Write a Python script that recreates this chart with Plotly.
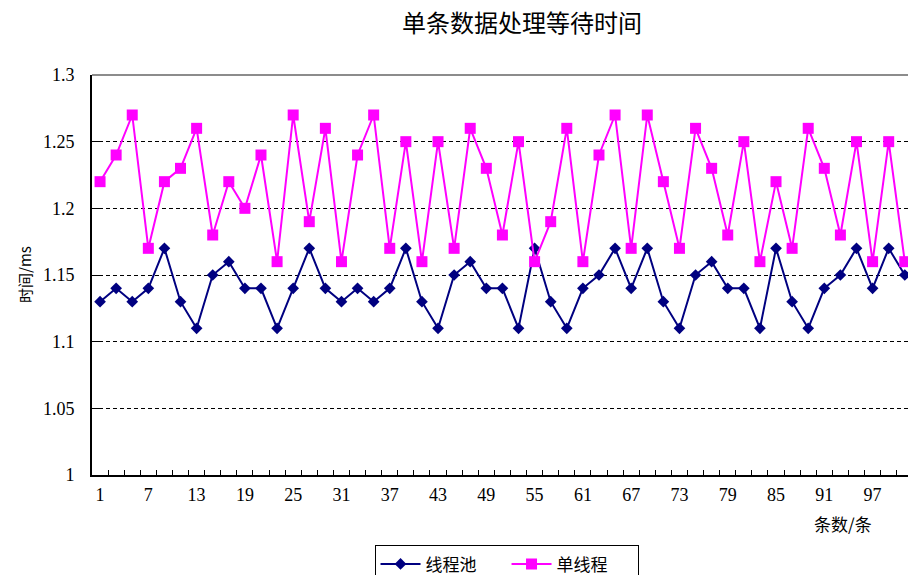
import plotly.graph_objects as go

# Record index (every other record is plotted) and waiting time in ms
record_no = list(range(1, 102, 2))

thread_pool_ms = [
    1.13, 1.14, 1.13, 1.14, 1.17, 1.13, 1.11, 1.15, 1.16, 1.14, 1.14, 1.11, 1.14, 1.17, 1.14, 1.13, 1.14,
    1.13, 1.14, 1.17, 1.13, 1.11, 1.15, 1.16, 1.14, 1.14, 1.11, 1.17, 1.13, 1.11, 1.14, 1.15, 1.17, 1.14,
    1.17, 1.13, 1.11, 1.15, 1.16, 1.14, 1.14, 1.11, 1.17, 1.13, 1.11, 1.14, 1.15, 1.17, 1.14, 1.17, 1.15,
]

single_thread_ms = [
    1.22, 1.24, 1.27, 1.17, 1.22, 1.23, 1.26, 1.18, 1.22, 1.20, 1.24, 1.16, 1.27, 1.19, 1.26, 1.16, 1.24,
    1.27, 1.17, 1.25, 1.16, 1.25, 1.17, 1.26, 1.23, 1.18, 1.25, 1.16, 1.19, 1.26, 1.16, 1.24, 1.27, 1.17,
    1.27, 1.22, 1.17, 1.26, 1.23, 1.18, 1.25, 1.16, 1.22, 1.17, 1.26, 1.23, 1.18, 1.25, 1.16, 1.25, 1.16,
]

x_tick_vals = list(range(1, 98, 6))
x_tick_text = [str(v) for v in x_tick_vals]
x_minor_vals = list(range(2, 102, 2))

y_tick_vals = [1.0, 1.05, 1.1, 1.15, 1.2, 1.25, 1.3]
y_tick_text = ["1", "1.05", "1.1", "1.15", "1.2", "1.25", "1.3"]

title_text = "单条数据处理等待时间"
y_title = "时间/ms"
x_title = "条数/条"

CJK = "Noto Sans CJK SC"
SERIF = "Liberation Serif"
X_RANGE = [0, 101.4]

fig = go.Figure()

fig.add_trace(go.Scatter(
    x=record_no, y=thread_pool_ms, name="线程池", mode="lines+markers",
    line=dict(color="#000080", width=2),
    marker=dict(symbol="diamond", size=9, color="#000080"),
))
fig.add_trace(go.Scatter(
    x=record_no, y=single_thread_ms, name="单线程", mode="lines+markers",
    line=dict(color="#FF00FF", width=2),
    marker=dict(symbol="square", size=11, color="#FF00FF"),
))
# invisible carrier trace for the overlay axis that draws the small category ticks
fig.add_trace(go.Scatter(
    x=[X_RANGE[0]], y=[1.0], xaxis="x2", mode="markers",
    marker=dict(opacity=0), showlegend=False, hoverinfo="skip",
))

fig.update_layout(
    width=908, height=575,
    margin=dict(l=92, r=0, t=75, b=100, autoexpand=False),
    paper_bgcolor="white", plot_bgcolor="white",
    showlegend=True,
    legend=dict(
        orientation="h", x=0.508, xanchor="center", y=-0.176, yanchor="top",
        bordercolor="black", borderwidth=1,
        font=dict(family=CJK, size=17, color="black"),
        itemwidth=40, entrywidth=76, tracegroupgap=0,
    ),
    annotations=[
        dict(text=title_text, xref="paper", yref="paper", x=(522 - 92) / 816, y=(475 - 22) / 400,
             xanchor="center", yanchor="middle", showarrow=False,
             font=dict(family=CJK, size=24, color="black")),
        dict(text=y_title, xref="paper", yref="paper", x=(24 - 92) / 816, y=0.5,
             xanchor="center", yanchor="middle", showarrow=False, textangle=-90,
             font=dict(family=CJK, size=15, color="black")),
        dict(text=x_title, xref="paper", yref="paper", x=(843 - 92) / 816, y=(475 - 523) / 400,
             xanchor="center", yanchor="middle", showarrow=False,
             font=dict(family=CJK, size=17, color="black")),
    ],
    shapes=[
        # light grey top border of the plot area
        dict(type="line", xref="paper", yref="paper", x0=0, x1=1, y0=1, y1=1,
             line=dict(color="#8c8c8c", width=2), layer="above"),
    ],
    xaxis2=dict(
        overlaying="x", side="bottom", anchor="y", range=X_RANGE,
        tickmode="array", tickvals=x_minor_vals, ticks="inside",
        ticklen=5, tickcolor="black", tickwidth=1,
        showticklabels=False, showgrid=False, zeroline=False, showline=False,
    ),
)

fig.update_layout(xaxis=dict(
    range=X_RANGE,
    tickmode="array", tickvals=x_tick_vals, ticktext=x_tick_text,
    ticks="", showgrid=False, zeroline=False,
    showline=True, linecolor="black", linewidth=2,
    tickfont=dict(family=SERIF, size=18, color="black"),
    ticklabelstandoff=2,
))

fig.update_yaxes(
    range=[1.0, 1.3],
    tickmode="array", tickvals=y_tick_vals, ticktext=y_tick_text,
    ticks="inside", ticklen=7, tickcolor="black", tickwidth=1,
    showgrid=True, gridcolor="black", gridwidth=1, griddash="4px,3px",
    zeroline=False,
    showline=True, linecolor="black", linewidth=2,
    tickfont=dict(family=SERIF, size=18, color="black"),
    ticklabelstandoff=12,
)

fig.write_html("out.html")
